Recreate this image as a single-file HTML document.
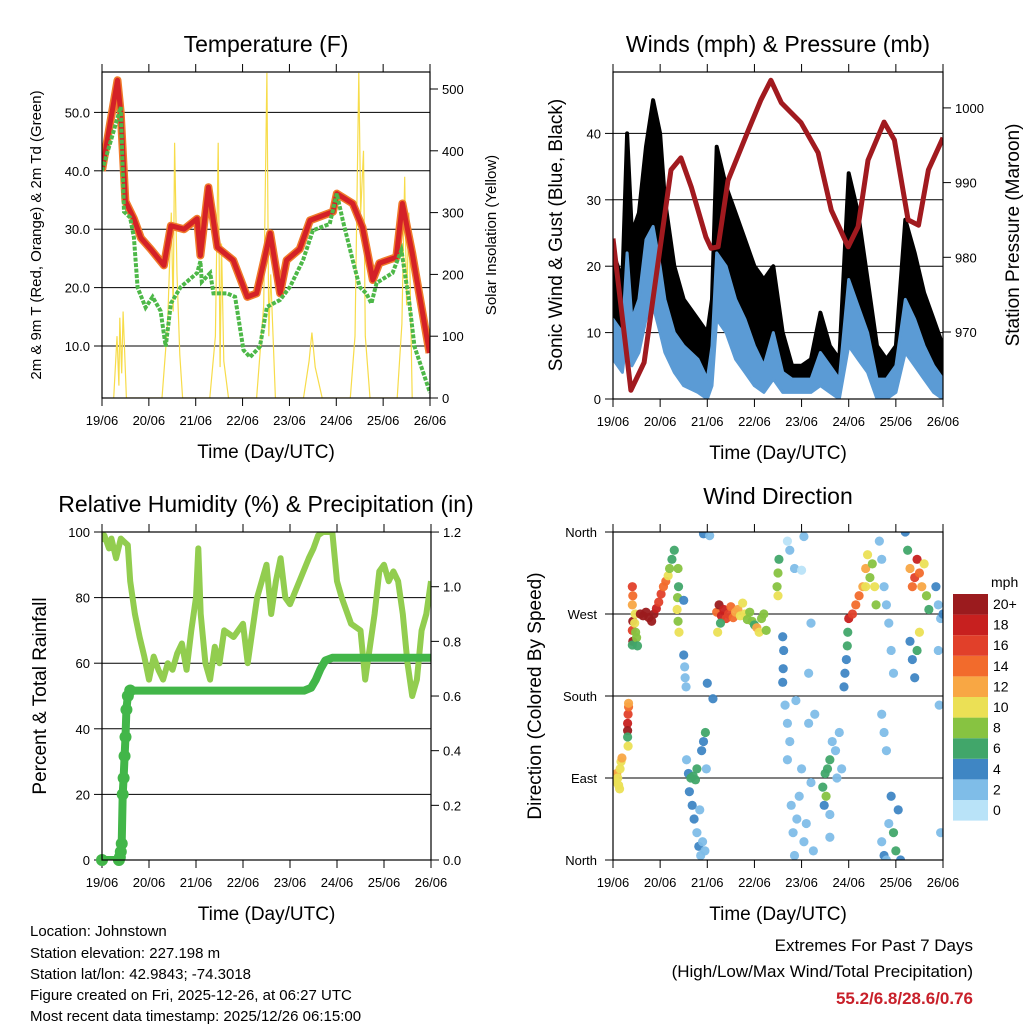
<!DOCTYPE html>
<html><head><meta charset="utf-8">
<style>
html,body{margin:0;padding:0;background:#fff;}
svg text{font-family:"Liberation Sans",Arial,sans-serif;fill:#000;}
</style></head>
<body>
<svg id="chart" width="1024" height="1024" viewBox="0 0 1024 1024" xmlns="http://www.w3.org/2000/svg">
<rect width="1024" height="1024" fill="#fff"/>
<text x="266" y="52" font-size="23" text-anchor="middle">Temperature (F)</text>
<text x="778" y="52" font-size="23" text-anchor="middle">Winds (mph) &amp; Pressure (mb)</text>
<text x="266" y="512" font-size="23" text-anchor="middle">Relative Humidity (%) &amp; Precipitation (in)</text>
<text x="778" y="504" font-size="23" text-anchor="middle">Wind Direction</text>
<text transform="translate(41,235) rotate(-90)" font-size="15" text-anchor="middle">2m &amp; 9m T (Red, Orange) &amp; 2m Td (Green)</text>
<text transform="translate(496,235) rotate(-90)" font-size="15" text-anchor="middle">Solar Insolation (Yellow)</text>
<text transform="translate(562,235) rotate(-90)" font-size="19" text-anchor="middle">Sonic Wind &amp; Gust (Blue, Black)</text>
<text transform="translate(1019,235) rotate(-90)" font-size="19" text-anchor="middle">Station Pressure (Maroon)</text>
<text transform="translate(46,696) rotate(-90)" font-size="19" text-anchor="middle">Percent &amp; Total Rainfall</text>
<text transform="translate(541,696) rotate(-90)" font-size="19" text-anchor="middle">Direction (Colored By Speed)</text>
<g font-size="15">
<text x="30" y="936">Location: Johnstown</text>
<text x="30" y="958">Station elevation: 227.198 m</text>
<text x="30" y="979">Station lat/lon: 42.9843; -74.3018</text>
<text x="30" y="1000">Figure created on Fri, 2025-12-26, at 06:27 UTC</text>
<text x="30" y="1021">Most recent data timestamp: 2025/12/26 06:15:00</text>
</g>
<g font-size="17" text-anchor="end">
<text x="973" y="951">Extremes For Past 7 Days</text>
<text x="973" y="977">(High/Low/Max Wind/Total Precipitation)</text>
<text x="973" y="1004" font-weight="bold" style="fill:#c8202a">55.2/6.8/28.6/0.76</text>
</g>
<g id="layer"></g>
</svg>
<script>
// ---------- DATA ----------
const dayTicks = ["19/06","20/06","21/06","22/06","23/06","24/06","25/06","26/06"];
const tempTicks = [10,20,30,40,50];
const solarTicks = [0,100,200,300,400,500];
const windTicks = [0,10,20,30,40];
const presTicks = [970,980,990,1000];
const rhTicks = [0,20,40,60,80,100];
const rainTicks = [0,0.2,0.4,0.6,0.8,1.0,1.2];
const dirTicks = ["North","East","South","West","North"];
const speedBins = ["0","2","4","6","8","10","12","14","16","18","20+"];

const tDays = [0,0.33,0.4,0.5,0.68,0.83,1.04,1.32,1.47,1.75,2.03,2.1,2.27,2.46,2.8,3.1,3.3,3.59,3.8,3.94,4.22,4.44,4.93,5.01,5.35,5.56,5.78,5.92,6.28,6.41,6.62,6.99];
const tempRed = [40,55.5,50,34.8,31.8,28.5,26.6,23.8,30.6,30,31.8,25.5,37.2,26.9,24.7,18.4,19,29.3,19,24.7,26.6,31.5,33,36.1,34.4,30.3,21.3,24.2,25.2,34.4,25.9,8.8];
const dDays = [0,0.4,0.47,0.6,0.68,0.76,0.93,1.08,1.25,1.36,1.47,1.68,2.03,2.1,2.13,2.31,2.38,2.67,2.84,3.02,3.16,3.37,3.52,3.8,4.01,4.29,4.5,4.86,5.01,5.14,5.35,5.5,5.64,5.75,5.86,6.2,6.39,6.56,6.67,7.0];
const dewGreen = [40,50.9,33,32,28.6,20,16.6,18.4,16,9.9,17.3,20.1,22.5,24.5,21,22.5,19,19,18.4,9.3,8.1,9.9,16.7,17.9,20.1,24.7,29.8,30.9,36.1,31.5,24.7,20.1,19,17.3,20.8,22.5,26.4,17.3,9.9,2];
const sDays = [0.25,0.32,0.36,0.38,0.42,0.45,0.52,1.28,1.4,1.48,1.52,1.55,1.6,1.66,1.72,2.3,2.42,2.48,2.52,2.55,2.6,2.7,3.3,3.45,3.52,3.56,3.6,3.7,4.3,4.42,4.48,4.55,4.7,5.3,5.4,5.48,5.52,5.58,5.62,5.72,6.3,6.4,6.46,6.5,6.55,6.62];
const solar = [0,100,20,130,40,140,0,0,120,300,140,413,200,70,0,0,100,413,50,250,60,0,0,150,526,100,200,0,0,60,106,50,0,0,100,526,300,400,100,0,0,120,358,150,300,0];

const wDays = [0,0.2,0.3,0.4,0.55,0.7,0.85,1.0,1.1,1.3,1.5,1.8,2.0,2.1,2.2,2.4,2.6,2.8,3.0,3.2,3.4,3.6,3.8,4.0,4.2,4.4,4.6,4.8,5.0,5.2,5.4,5.6,5.8,6.0,6.2,6.4,6.6,6.8,7.0];
const gustHi = [22,18,40,25,28,38,45,40,30,20,15,12,10,15,38,32,28,24,20,18,20,10,5,5,6,13,8,6,34,28,18,8,6,8,27,22,16,12,8];
const windHi = [12,10,22,12,15,24,26,20,15,10,8,6,3,8,22,20,15,12,8,5,10,4,3,3,3,7,5,3,18,14,10,3,3,5,15,12,8,5,3];
const windLo = [6,4,10,5,7,12,14,10,7,4,2,1,0,2,12,10,6,4,2,1,3,1,1,1,1,2,1,0,8,6,4,0,0,1,7,5,3,1,0];
const pDays = [0,0.38,0.66,1.23,1.44,1.66,1.97,2.08,2.23,2.44,2.87,3.14,3.35,3.57,3.99,4.35,4.63,4.99,5.2,5.41,5.75,5.97,6.26,6.48,6.69,7.0];
const pressure = [982.5,962.2,965.9,991.7,993.3,989.4,982.7,981.2,981.4,990.3,997,1001.1,1003.7,1000.7,998,994,986.3,981.4,984.1,993,998.1,995.7,985,984.3,991.7,996];

const rhDays = [0,0.05,0.15,0.2,0.3,0.4,0.55,0.6,0.7,0.8,0.9,1.0,1.1,1.2,1.3,1.4,1.5,1.6,1.7,1.8,1.9,2.0,2.05,2.1,2.2,2.3,2.4,2.5,2.6,2.8,3.0,3.1,3.3,3.5,3.6,3.7,3.8,3.9,4.0,4.2,4.4,4.5,4.6,4.7,4.9,5.0,5.1,5.3,5.5,5.6,5.7,5.8,5.9,6.0,6.1,6.2,6.3,6.4,6.5,6.6,6.7,6.8,6.9,7.0];
const rh = [97,99,95,98,92,98,96,85,75,68,62,55,62,58,55,60,58,63,66,58,70,80,95,75,60,55,65,60,70,68,72,60,80,90,75,85,92,80,78,85,92,95,99,100,100,85,80,72,70,55,65,75,88,90,85,88,85,75,60,50,55,70,75,85];
const rDays = [0,0.36,0.38,0.4,0.42,0.44,0.46,0.48,0.5,0.52,0.55,0.6,1.5,2.5,3.5,4.3,4.45,4.55,4.65,4.75,4.9,5.5,6.5,7.0];
const rain = [0,0,0.01,0.03,0.06,0.24,0.3,0.38,0.45,0.55,0.6,0.62,0.62,0.62,0.62,0.62,0.63,0.66,0.7,0.73,0.74,0.74,0.74,0.74];

const dirDay = [0,0.03,0.06,0.08,0.1,0.12,0.14,0.15,0.17,0.19,0.31,0.32,0.33,0.31,0.31,0.32,0.33,0.41,0.42,0.41,0.42,0.41,0.42,0.41,0.46,0.48,0.5,0.52,0.47,0.58,0.64,0.7,0.76,0.82,0.87,0.92,0.97,1.02,1.07,1.12,1.17,1.2,1.25,1.3,1.36,1.38,1.4,1.37,1.39,1.38,1.5,1.52,1.53,1.55,1.5,1.92,2.05,2.0,2.12,1.56,1.6,1.65,1.7,1.75,1.78,1.62,1.68,1.72,1.78,1.82,1.86,1.9,1.95,1.88,1.92,1.96,1.98,1.84,2.2,2.25,2.3,2.35,2.4,2.45,2.5,2.55,2.6,2.65,2.7,2.75,2.8,2.85,2.9,2.95,3.0,3.05,3.1,3.15,3.2,3.25,2.22,2.28,3.48,3.5,3.52,3.5,3.6,3.62,3.61,3.6,3.65,3.7,3.75,3.7,3.78,3.82,3.85,3.9,3.95,4.0,4.05,4.1,4.15,4.2,4.25,4.28,3.88,3.7,3.75,3.85,4.0,4.05,4.2,4.15,4.45,4.5,4.55,4.6,4.52,4.48,4.6,4.65,4.72,4.8,4.85,4.75,4.6,4.9,4.92,4.95,4.97,4.98,5.0,5.08,5.15,5.22,5.3,5.36,5.4,5.36,5.45,5.5,5.55,5.58,5.65,5.7,5.75,5.8,5.85,5.9,5.95,5.7,5.75,5.8,5.7,5.75,5.8,5.85,5.9,5.95,6.0,6.05,6.1,6.2,6.25,6.3,6.35,6.4,6.45,6.5,6.55,6.6,6.65,6.7,6.3,6.35,6.4,6.45,6.5,6.85,6.9,6.95,7.0,6.9,6.92,6.95];
const dirDeg = [88,92,86,95,90,82,78,100,108,112,150,160,168,142,135,125,172,300,290,280,262,252,240,236,260,250,244,235,270,270,268,272,266,262,270,276,283,292,300,306,312,320,330,340,275,262,250,288,300,320,225,212,200,190,285,358,356,194,177,110,95,90,92,88,100,75,60,45,30,15,5,20,10,120,130,140,100,55,272,280,268,275,265,270,278,266,272,275,268,282,270,264,272,262,258,255,250,265,270,252,250,260,300,315,330,290,245,230,210,195,170,150,130,110,60,30,5,45,70,100,20,40,150,85,10,160,175,350,340,320,318,355,260,205,80,95,100,110,70,60,50,130,120,140,100,90,25,190,205,220,235,250,265,270,280,290,300,320,335,300,310,325,300,280,350,330,300,280,260,230,205,160,140,120,20,5,0,40,70,30,10,55,0,360,340,320,300,310,330,315,300,325,290,275,240,220,200,230,250,300,280,265,270,230,170,30];
const dirSpd = [12,13,11,12,10,10,10,11,10,12,18,17,15,20,7,10,13,16,14,13,20,17,20,7,11,9,8,6,10,20,20,20,20,20,20,19,17,16,15,14,11,8,6,6,10,9,10,8,7,8,4,2,2,2,4,4,2,4,4,3,5,6,7,6,6,4,4,4,3,4,3,2,2,4,4,7,3,3,14,20,19,18,17,16,15,14,13,12,11,10,11,9,8,9,7,12,10,9,8,9,10,7,8,9,7,11,4,4,4,4,2,2,2,2,2,2,2,2,2,2,2,2,2,2,2,2,2,1,2,2,1,2,2,3,6,6,7,6,8,4,3,3,2,2,2,2,3,4,4,4,6,6,18,16,15,14,13,12,11,10,9,8,10,9,2,2,2,2,3,2,2,2,2,2,3,4,3,3,4,6,6,4,4,4,6,12,14,16,18,15,12,10,8,6,4,4,5,6,10,4,3,3,5,2,2,2];

// ---------- GEOMETRY ----------
const NS = "http://www.w3.org/2000/svg";
const layer = document.getElementById('layer');
const P1 = {x0:102,x1:430,y0:72,y1:398};
const P2 = {x0:613,x1:943,y0:72,y1:399};
const P3 = {x0:102,x1:431,y0:532,y1:860};
const P4 = {x0:613,x1:943,y0:532,y1:860};
const xs = (P,d) => P.x0 + d*(P.x1-P.x0)/7;
const yTemp = t => 404.4 - t*5.84;
const ySolar = s => 398 - s*0.618;
const yWind = w => 399 - w*6.64;
const yPres = p => 332 - (p-970)*7.47;
const yRH = r => 860 - r*3.28;
const yRain = r => 860 - r*273.3;
const yDir = d => 860 - d*328/360;

function el(tag, attrs, parent){
  const e = document.createElementNS(NS, tag);
  for (const k in attrs) e.setAttribute(k, attrs[k]);
  (parent||layer).appendChild(e);
  return e;
}
function pathD(P, days, vals, yf){
  return days.map((d,i)=>(i?'L':'M')+xs(P,d).toFixed(1)+','+yf(vals[i]).toFixed(1)).join('');
}
function bandD(P, days, hi, lo, yf){
  let s = days.map((d,i)=>(i?'L':'M')+xs(P,d).toFixed(1)+','+yf(hi[i]).toFixed(1)).join('');
  for (let i=days.length-1;i>=0;i--) s += 'L'+xs(P,days[i]).toFixed(1)+','+yf(lo[i]).toFixed(1);
  return s+'Z';
}
function clip(P,id){
  const cp = el('clipPath',{id:id});
  el('rect',{x:P.x0,y:P.y0,width:P.x1-P.x0,height:P.y1-P.y0},cp);
  return 'url(#'+id+')';
}

// ---------- FRAME / AXES ----------
function frame(P, name){
  dayTicks.forEach((lab,i)=>{
    const x = xs(P,i);
    const t1 = el('line',{x1:x,x2:x,y1:P.y0-8,y2:P.y0,stroke:'#000','stroke-width':1});
    
    
    const t2 = el('line',{x1:x,x2:x,y1:P.y1,y2:P.y1+8,stroke:'#000','stroke-width':1});
    
    
    const tx = el('text',{x:x,y:P.y1+27,'font-size':13,'text-anchor':'middle'});
    tx.textContent = lab;
    
    
  });
  const xl = el('text',{x:(P.x0+P.x1)/2,y:P.y1+60,'font-size':19,'text-anchor':'middle'});
  xl.textContent = 'Time (Day/UTC)';
  
  
}
function leftAxis(P, ticks, yf, fmt, name, grid){
  ticks.forEach(v=>{
    const y = yf(v);
    if (grid){
      const g = el('line',{x1:P.x0,x2:P.x1,y1:y,y2:y,stroke:'#000','stroke-width':1});
      
      
    }
    const t = el('line',{x1:P.x0-8,x2:P.x0,y1:y,y2:y,stroke:'#000'});
    
    
    const tx = el('text',{x:P.x0-12,y:y+5,'font-size':13,'text-anchor':'end'});
    tx.textContent = fmt(v);
    
    
  });
}
function rightAxis(P, ticks, yf, fmt, name){
  ticks.forEach(v=>{
    const y = yf(v);
    const t = el('line',{x1:P.x1,x2:P.x1+8,y1:y,y2:y,stroke:'#000'});
    
    
    const tx = el('text',{x:P.x1+12,y:y+5,'font-size':13,'text-anchor':'start'});
    tx.textContent = fmt(v);
    
    
  });
}
function border(P,name){
  const r = el('rect',{x:P.x0,y:P.y0,width:P.x1-P.x0,height:P.y1-P.y0,fill:'none',stroke:'#000','stroke-width':1.2});
  
  
}

// ---------- PANEL 1: TEMPERATURE ----------
const c1 = clip(P1,'c1');
leftAxis(P1, tempTicks, yTemp, v=>v.toFixed(1), 'temperature', true);
rightAxis(P1, solarTicks, ySolar, v=>String(v), 'solar');
frame(P1,'temperature');
const sol = el('path',{d:pathD(P1,sDays,solar,ySolar),fill:'none',stroke:'#f7dc4a','stroke-width':1.2,'clip-path':c1});


const t9 = el('path',{d:pathD(P1,tDays,tempRed,yTemp),fill:'none',stroke:'#f07b2b','stroke-width':8,'stroke-linejoin':'round','clip-path':c1});


const t2 = el('path',{d:pathD(P1,tDays,tempRed,yTemp),fill:'none',stroke:'#d42127','stroke-width':5,'stroke-linejoin':'round','clip-path':c1});


const td = el('path',{d:pathD(P1,dDays,dewGreen,yTemp),fill:'none',stroke:'#4db848','stroke-width':4,'stroke-dasharray':'4 1.5','clip-path':c1});


border(P1,'temperature');

// ---------- PANEL 2: WINDS ----------
const c2 = clip(P2,'c2');
leftAxis(P2, windTicks, yWind, v=>String(v), 'wind', true);
rightAxis(P2, presTicks, yPres, v=>String(v), 'pressure');
frame(P2,'winds');
const gb = el('path',{d:bandD(P2,wDays,gustHi,windHi,yWind),fill:'#000',stroke:'#000','stroke-width':4,'stroke-linejoin':'round','clip-path':c2});


const wb = el('path',{d:bandD(P2,wDays,windHi,windLo,yWind),fill:'#5b9bd5',stroke:'#5b9bd5','stroke-width':3,'stroke-linejoin':'round','clip-path':c2});


const pl = el('path',{d:pathD(P2,pDays,pressure,yPres),fill:'none',stroke:'#a11a1f','stroke-width':5,'stroke-linejoin':'round','clip-path':c2});


border(P2,'winds');

// ---------- PANEL 3: RH ----------
const c3 = clip(P3,'c3');
leftAxis(P3, rhTicks, yRH, v=>String(v), 'humidity', true);
rightAxis(P3, rainTicks, yRain, v=>v.toFixed(1), 'rainfall');
frame(P3,'humidity');
const rl = el('path',{d:pathD(P3,rhDays,rh,yRH),fill:'none',stroke:'#92cd4f','stroke-width':6,'stroke-linejoin':'round','clip-path':c3});


const pr = el('path',{d:pathD(P3,rDays,rain,yRain),fill:'none',stroke:'#42b649','stroke-width':8,'stroke-linejoin':'round','clip-path':c3});


rDays.forEach((d,i)=>{
  if (d>0.6) return;
  const c = el('circle',{cx:xs(P3,d),cy:yRain(rain[i]),r:6,fill:'#42b649'});
  
  
});
border(P3,'humidity');

// ---------- PANEL 4: DIRECTION ----------
const c4 = clip(P4,'c4');
const binColors = ['#b9e3f8','#7fbde8','#3f86c4','#41a66a','#87c341','#ebe055','#f8a744','#f26b2c','#e1402a','#c7201f','#9b1b1e'];
[0,90,180,270,360].forEach((deg,i)=>{
  const y = yDir(deg);
  if (i>0 && i<4){
    const g = el('line',{x1:P4.x0,x2:P4.x1,y1:y,y2:y,stroke:'#000'});
    
    
  }
  const t = el('line',{x1:P4.x0-8,x2:P4.x0,y1:y,y2:y,stroke:'#000'});
  
  
  const tx = el('text',{x:P4.x0-16,y:y+5,'font-size':13,'text-anchor':'end'});
  tx.textContent = dirTicks[i];
  
  
});
frame(P4,'direction');
dirDay.forEach((d,i)=>{
  const b = Math.min(10, Math.floor(dirSpd[i]/2));
  const c = el('circle',{cx:xs(P4,d),cy:yDir(dirDeg[i]),r:4.6,fill:binColors[b],'fill-opacity':0.95,'clip-path':c4});
  
  
});
border(P4,'direction');

// colorbar
const cbTitle = el('text',{x:991,y:587,'font-size':14});
cbTitle.textContent = 'mph';


speedBins.forEach((lab,i)=>{
  const j = 10-i;
  const y = 594 + j*20.6;
  const r = el('rect',{x:953,y:y,width:35,height:20.6,fill:binColors[i]});
  
  
  const tx = el('text',{x:993,y:y+15,'font-size':14});
  tx.textContent = lab;
  
  
});
</script>
</body></html>
